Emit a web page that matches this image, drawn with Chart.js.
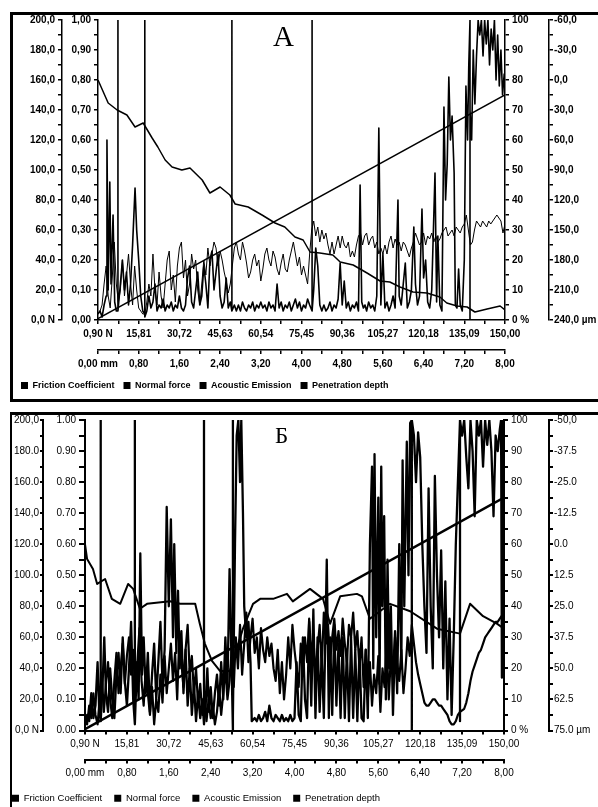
<!DOCTYPE html>
<html>
<head>
<meta charset="utf-8">
<script src="https://cdn.jsdelivr.net/npm/chart.js@4.4.1/dist/chart.umd.min.js"></script>
<style>
    html, body { margin: 0; padding: 0; background: #fff; width: 598px; height: 807px; overflow: hidden; position: relative; }
    .frame { position: absolute; border: solid #000; box-sizing: border-box; }
    #frameA { left: 10px; top: 12px; width: 600px; height: 390px; border-width: 3px 0 3px 3px; }
    #frameB { left: 10px; top: 412px; width: 600px; height: 410px; border-width: 3px 0 0 2px; }
    canvas { position: absolute; left: 0; }
    #chartA { top: 0; }
    #chartB { top: 405px; }
    .letter { position: absolute; font-family: 'Liberation Serif', 'DejaVu Serif', serif; color: #000; line-height: 1; z-index: 2; }
</style>
</head>
<body>
<div class="frame" id="frameA"></div>
<div class="frame" id="frameB"></div>
<canvas id="chartA" width="598" height="400"></canvas>
<canvas id="chartB" width="598" height="408"></canvas>
<div class="letter" style="left:273px; top:22px; font-size:29px;">А</div>
<div class="letter" style="left:275px; top:424px; font-size:23px;">Б</div>
<script>
// tick labels (every second tick carries a label, the rest are minor marks)
var forceTicks = ['0,90 N', '15,81', '30,72', '45,63', '60,54', '75,45', '90,36', '105,27', '120,18', '135,09', '150,00'];
var distanceTicks = ['0,00 mm', '0,80', '1,60', '2,40', '3,20', '4,00', '4,80', '5,60', '6,40', '7,20', '8,00'];
var aeTicks = ['0 %', '10', '20', '30', '40', '50', '60', '70', '80', '90', '100'];

var forceAxisA = ['0,0 N', '20,0', '40,0', '60,0', '80,0', '100,0', '120,0', '140,0', '160,0', '180,0', '200,0'];
var frictionAxisA = ['0,00', '0,10', '0,20', '0,30', '0,40', '0,50', '0,60', '0,70', '0,80', '0,90', '1,00'];
var depthAxisA = ['-60,0', '-30,0', '0,0', '30,0', '60,0', '90,0', '120,0', '150,0', '180,0', '210,0', '240,0 µm'];

var forceAxisB = ['0,0 N', '20,0', '40,0', '60,0', '80,0', '100.0', '120.0', '140,0', '160.0', '180.0', '200,0'];
var frictionAxisB = ['0.00', '0.10', '0.20', '0.30', '0.40', '0.50', '0.60', '0.70', '0.80', '0.90', '1.00'];
var depthAxisB = ['-50,0', '-37.5', '-25.0', '-12.5', '0.0', '12.5', '25.0', '37.5', '50.0', '62.5', '75.0 µm'];

// position along the scratch is given in % of track (0 = 0,90 N / 0 mm, 100 = 150 N / 8 mm)
var frictionStep = 0.5;

// normal force, N (linear ramp)
var forcePos = [0, 100];
var forceValues = [0.9, 150];

// ---- chart A ----
var frictionA = [
    0.02, 0.03, 0.05, 0.12, 0.18, 0.08, 0.04, 0.14, 0.26, 0.12, 0.06,
    0.10, 0.20, 0.08, 0.15, 0.22, 0.12, 0.05, 0.18, 0.10, 0.04,
    0.03, 0.02, 0.02, 0.06, 0.12, 0.08, 0.22, 0.10, 0.05, 0.16,
    0.08, 0.04, 0.12, 0.20, 0.23, 0.10, 0.15, 0.06, 0.18, 0.24,
    0.26, 0.14, 0.20, 0.08, 0.12, 0.22, 0.17, 0.20, 0.10, 0.05,
    0.12, 0.20, 0.15, 0.24, 0.18, 0.22, 0.26, 0.24, 0.18, 0.23,
    0.20, 0.16, 0.13, 0.09, 0.12, 0.18, 0.24, 0.26, 0.22, 0.20,
    0.26, 0.23, 0.19, 0.14, 0.16, 0.20, 0.22, 0.18, 0.20, 0.13,
    0.17, 0.22, 0.24, 0.20, 0.18, 0.23, 0.21, 0.17, 0.15, 0.19,
    0.22, 0.17, 0.16, 0.20, 0.23, 0.26, 0.22, 0.18, 0.21, 0.15,
    0.18, 0.15, 0.12, 0.22, 0.30, 0.33, 0.28, 0.31, 0.26, 0.30,
    0.27, 0.29, 0.25, 0.22, 0.26, 0.22, 0.25, 0.28, 0.24, 0.28,
    0.25, 0.24, 0.26, 0.21, 0.23, 0.21, 0.25, 0.28, 0.29, 0.25,
    0.28, 0.29, 0.25, 0.27, 0.28, 0.24, 0.26, 0.22, 0.24, 0.22,
    0.25, 0.22, 0.26, 0.28, 0.24, 0.27, 0.25, 0.26, 0.23, 0.26,
    0.25, 0.23, 0.21, 0.24, 0.26, 0.29, 0.27, 0.25, 0.26, 0.29,
    0.25, 0.28, 0.27, 0.29, 0.26, 0.28, 0.26, 0.27, 0.29, 0.30,
    0.31, 0.28, 0.29, 0.30, 0.28, 0.31, 0.30, 0.29, 0.31, 0.32,
    0.35, 0.30, 0.25, 0.26, 0.30, 0.33, 0.32, 0.31, 0.33, 0.32,
    0.31, 0.33, 0.32, 0.33, 0.34, 0.35, 0.34, 0.33, 0.29, 0.32
];

// acoustic emission, [position, %]
var aeA = [
    [0, 2], [0.5, 3], [1, 1], [1.5, 5], [2, 8], [2.2, 60], [2.5, 10], [2.9, 46], [3.2, 12], [3.7, 35], [4.1, 6], [4.5, 3], [4.9, 3], [4.9, 100], [4.9, 3],
    [5.5, 12], [6, 20], [6.5, 10], [7, 16], [7.5, 5], [8, 12], [8.5, 25], [9.1, 44], [9.5, 30], [10, 20], [10.5, 8], [11, 3], [11.5, 2], [11.5, 100], [11.5, 1],
    [12, 3], [12.5, 8], [13, 4], [13.5, 6], [14, 12], [14.5, 3], [15, 5], [15.5, 4], [16, 7], [16.5, 3], [17, 5], [17.5, 4], [18, 6], [18.5, 3], [19, 5], [19.5, 4],
    [20, 8], [20.5, 4], [21, 3], [21.5, 5], [22, 14], [22.5, 18], [23, 6], [23.5, 4], [24, 10], [24.5, 16], [25, 5], [25.5, 8], [26, 18], [26.5, 12], [27, 4], [27.5, 20], [28, 23], [28.5, 10], [29, 16], [29.5, 22],
    [30, 8], [30.5, 4], [31, 6], [31.5, 14], [32, 4], [32.5, 6], [32.9, 3], [32.9, 100], [32.9, 3], [33.5, 5], [34, 3], [34.5, 5], [35, 3], [35.5, 6], [36, 4], [36.5, 3], [37, 5], [37.5, 4], [38, 6], [38.5, 3], [39, 5], [39.5, 4],
    [40, 6], [40.5, 4], [41, 5], [41.5, 3], [42, 6], [42.5, 4], [43, 5], [43.5, 3], [44, 12], [44.5, 4], [45, 6], [45.5, 3], [46, 5], [46.5, 4], [47, 6], [47.5, 3], [48, 5], [48.5, 7], [49, 4], [49.5, 6],
    [50, 3], [50.5, 5], [51, 4], [51.5, 7], [52, 5], [52.6, 3], [52.6, 100], [52.6, 3], [53, 10], [53.5, 24], [54, 18], [54.5, 5], [55, 3], [55.5, 5], [56, 3], [56.5, 4], [57, 6], [57.5, 3], [58, 5], [58.5, 4], [59, 7], [59.5, 19],
    [60, 5], [60.5, 13], [61, 4], [61.5, 6], [62, 3], [62.5, 5], [63, 4], [63.5, 6], [64, 3], [64.4, 45], [64.8, 6], [65.2, 4], [65.6, 5], [66, 3], [66.5, 6], [67, 4], [67.5, 5], [68, 3], [68.5, 8], [69, 64], [69.5, 5],
    [70, 22], [70.5, 4], [71, 6], [71.5, 3], [72, 5], [72.5, 8], [73, 4], [73.7, 40], [74, 8], [74.5, 5], [75, 12], [75.5, 19], [76, 4], [76.5, 6], [77, 10], [77.6, 31], [78, 12], [78.5, 5], [79, 8], [79.6, 37],
    [80, 14], [80.5, 20], [81, 6], [81.5, 4], [82, 10], [82.8, 49], [83.2, 6], [83.5, 28], [84, 5], [84.5, 3], [85, 71], [85.4, 40], [85.8, 52], [86.2, 81], [86.6, 60], [87, 68], [87.5, 49], [87.8, 5], [88.2, 4], [88.6, 17], [89, 5], [89.5, 3],
    [90, 20], [90.4, 78], [90.8, 60], [91.1, 85], [91.4, 100], [91.4, 0], [91.4, 70], [91.8, 60], [92.2, 90], [92.6, 72], [93, 88], [93.4, 100], [93.8, 95], [94.2, 100], [94.6, 88], [95, 100], [95.4, 92], [95.8, 100],
    [96.2, 85], [96.6, 97], [97, 90], [97.4, 100], [97.8, 80], [98.2, 95], [98.6, 78], [99, 90], [99.4, 75], [99.8, 82], [100, 80]
];

// penetration depth, µm
var depthPosA = [0, 2.5, 4.7, 7.1, 9.1, 11.1, 13.3, 14.7, 16.5, 18.2, 20.6, 22.6, 25.6, 27.5, 30, 32.4, 33.7, 36.9, 40.3, 43.5,
    45.9, 48.4, 50.4, 52.1, 54.5, 57.7, 59.5, 62.7, 66.1, 69.3, 71.7, 74.2, 77.4, 80.8, 84, 85.7, 88.2, 90.7, 92.6, 95.6, 98.8, 100];
var depthA = [0, 23, 30, 35, 47, 43, 58, 67, 80, 87, 90, 88, 100, 113, 107, 115, 124, 127, 135, 143,
    147, 157, 160, 172, 173, 175, 182, 185, 193, 201, 202, 207, 212, 213, 217, 223, 226, 227, 232, 229, 226, 230];

// ---- chart Б ----
var frictionB = [
    0.03, 0.02, 0.08, 0.04, 0.12, 0.05, 0.02, 0.10, 0.18, 0.06, 0.15,
    0.22, 0.10, 0.04, 0.16, 0.25, 0.12, 0.20, 0.28, 0.15, 0.24,
    0.30, 0.18, 0.26, 0.12, 0.22, 0.33, 0.16, 0.08, 0.20, 0.12,
    0.05, 0.14, 0.02, 0.10, 0.06, 0.18, 0.09, 0.24, 0.12, 0.20,
    0.28, 0.16, 0.25, 0.10, 0.30, 0.22, 0.14, 0.26, 0.34, 0.18,
    0.24, 0.12, 0.20, 0.08, 0.15, 0.05, 0.12, 0.03, 0.10, 0.04,
    0.08, 0.02, 0.06, 0.14, 0.05, 0.12, 0.20, 0.10, 0.16, 0.26,
    0.14, 0.30, 0.20, 0.34, 0.18, 0.28, 0.38, 0.22, 0.30, 0.36,
    0.25, 0.30, 0.20, 0.33, 0.26, 0.22, 0.30, 0.24, 0.28, 0.20,
    0.16, 0.26, 0.12, 0.22, 0.10, 0.18, 0.30, 0.20, 0.34, 0.26,
    0.20, 0.14, 0.28, 0.18, 0.30, 0.22, 0.36, 0.24, 0.30, 0.18,
    0.26, 0.34, 0.20, 0.38, 0.28, 0.34, 0.22, 0.30, 0.36, 0.26,
    0.32, 0.24, 0.36, 0.28, 0.22, 0.34, 0.30, 0.38, 0.26, 0.32,
    0.20, 0.30, 0.14, 0.26, 0.10, 0.22, 0.08, 0.18, 0.12, 0.24,
    0.06, 0.20, 0.14, 0.28, 0.10, 0.24, 0.18, 0.32, 0.22, 0.16,
    0.26, 0.12, 0.20, 0.30, 0.24, 0.34, 0.28, 0.22, 0.18, 0.15,
    0.12, 0.09, 0.08, 0.08, 0.09, 0.10, 0.10, 0.09, 0.08, 0.08,
    0.07, 0.06, 0.05, 0.03, 0.02, 0.02, 0.03, 0.05, 0.06, 0.065,
    0.07, 0.09, 0.12, 0.16, 0.19, 0.21, 0.23, 0.25, 0.26, 0.28,
    0.30, 0.31, 0.32, 0.33, 0.34, 0.35, 0.35, 0.36, 0.37, 0.37
];

var aeB = [
    [0, 2], [0.5, 5], [1, 3], [1.5, 12], [2, 4], [2.5, 8], [3, 22], [3.4, 6], [3.75, 3], [3.75, 100], [3.75, 3], [4.2, 15], [4.6, 30], [5, 12], [5.5, 6], [6, 20], [6.5, 10], [7, 4], [7.5, 18], [8, 25],
    [8.5, 12], [9, 30], [9.5, 16], [10, 8], [10.5, 20], [11, 35], [11.5, 10], [11.9, 2], [11.9, 100], [11.9, 2],
    [12.4, 22], [12.8, 10], [13.2, 57], [13.6, 18], [14, 30], [14.5, 12], [15, 25], [15.5, 6], [16, 18], [16.5, 28], [17, 10], [17.5, 22], [18, 35], [18.5, 15], [19, 26], [19.5, 72], [20, 40], [20.5, 68],
    [21, 30], [21.3, 60], [21.8, 25], [22.2, 45], [22.6, 20], [23, 32], [23.5, 12], [24, 26], [24.5, 8], [25, 20], [25.5, 5], [26, 15], [26.5, 3], [27, 12], [27.5, 4], [28, 10], [28.4, 2], [28.4, 100], [28.4, 2],
    [28.8, 8], [29.2, 20], [29.6, 6], [30, 14], [30.5, 4], [31, 12], [31.5, 18], [32, 8], [32.5, 22], [33, 10], [33.5, 30], [34, 14], [34.5, 52], [35, 20], [35.3, 0], [35.3, 100], [35.3, 5],
    [35.8, 60], [36.2, 95], [36.6, 100], [37, 80], [37.3, 100], [37.7, 70], [38, 40], [38.5, 30], [39, 35], [39.5, 22], [39.8, 3],
    [40.5, 4], [41, 3], [41.5, 5], [42, 3], [42.5, 4], [43, 6], [43.5, 3], [44, 8], [44.5, 4], [45, 3], [45.5, 5], [46, 4], [46.5, 3], [47, 5], [47.5, 3], [48, 4], [48.5, 3], [49, 5], [49.5, 3], [50, 4],
    [50.5, 22], [51, 5], [51.5, 3], [52, 30], [52.5, 10], [53, 4], [53.5, 35], [54, 8], [54.5, 39], [55, 4], [55.5, 30], [56, 6], [56.5, 25], [57, 4], [57.7, 55], [58.2, 4], [58.5, 30], [59, 5], [59.5, 34],
    [60, 8], [60.5, 28], [61, 4], [61.5, 30], [62, 4], [62.5, 26], [63, 3], [63.5, 30], [64, 4], [64.5, 26], [65, 3], [65.5, 26], [66, 4], [66.5, 3], [67, 26], [67.5, 4],
    [68, 60], [68.5, 85], [68.8, 20], [69.1, 89], [69.5, 30], [70, 75], [70.3, 15], [70.7, 85], [71, 40], [71.4, 69], [71.8, 10], [72.2, 55], [72.6, 20], [73, 40], [73.5, 5], [74, 30], [74.5, 12],
    [75, 60], [75.5, 20], [75.8, 87], [76.2, 40], [76.8, 93], [77.2, 50], [77.6, 99], [78, 100], [78, 0], [78, 100], [78.5, 95], [79, 80], [79.5, 96],
    [80, 88], [80.5, 60], [81, 40], [81.5, 25], [82, 78], [82.5, 40], [83, 20], [83.5, 82], [84, 50], [84.5, 30], [85, 58], [85.5, 20], [86, 48], [86.5, 10], [87, 36], [87.5, 5], [88, 30], [88.5, 60], [89, 80],
    [89.5, 100], [89.5, 3], [89.5, 100], [90, 95], [90.5, 100], [91, 88], [91.5, 78], [92, 100], [92.5, 90], [93, 69], [93.5, 100], [94, 95], [94.5, 100], [95, 85], [95.5, 100], [96, 92], [96.5, 100],
    [97, 90], [97.5, 69], [98, 95], [98.5, 90], [99, 97], [99.3, 100], [99.5, 17], [99.8, 40], [100, 45]
];

var depthPosB = [0, 0.5, 1.9, 2.9, 4.8, 6.4, 8.4, 10.3, 11.5, 13.1, 14.8, 20.3, 22.7, 26.3, 27.4, 28.6, 30.3, 32.2, 34.6, 37.7,
    40.1, 41.8, 44.9, 48.2, 49.6, 53.7, 56.8, 58.5, 60.9, 64.9, 66.1, 68, 72.8, 77.6, 84, 89.5, 91.9, 95, 98.3, 100];
var depthB = [0, 6, 10, 16, 14, 22, 24, 16, 18, 26, 24, 23, 24, 24, 32, 40, 47, 51, 51, 34,
    24, 22, 22, 20, 23, 18, 22, 32, 21, 20, 21, 30, 24, 27, 34, 36, 24, 29, 32, 34];

Chart.defaults.font.family = "'Liberation Sans', Arial, sans-serif";
Chart.defaults.color = '#000';

// label lookup by tick value, so reversed axes get the right text too
function tickLabels(labels, min, step) {
    return function (value) {
        var i = Math.round((value - min) / step);
        return i % 2 ? '' : labels[i / 2];
    };
}

function axis(o) {
    return {
        type: 'linear',
        position: o.position,
        weight: o.weight,
        min: o.min,
        max: o.max,
        reverse: !!o.reverse,
        border: { display: true, color: '#000', width: o.lineWidth },
        grid: { drawOnChartArea: false, drawTicks: true, tickLength: o.tickLength, color: '#000', lineWidth: o.lineWidth },
        ticks: {
            stepSize: o.step, autoSkip: false, maxRotation: 0, minRotation: 0,
            padding: o.padding, color: '#000', font: o.font, callback: tickLabels(o.labels, o.min, o.step)
        },
        afterFit: function (scale) {
            if (o.width) scale.width = o.width;
            if (o.height) scale.height = o.height;
        }
    };
}

function series(label, points, axisId, width) {
    return {
        label: label, data: points, yAxisID: axisId, xAxisID: 'x',
        borderColor: '#000', backgroundColor: '#000', borderWidth: width,
        pointRadius: 0, fill: false, tension: 0, borderJoinStyle: 'round'
    };
}

function pairs(xs, ys) {
    return xs.map(function (x, i) { return { x: x, y: ys[i] }; });
}

function makeChart(id, d) {
    var f = d.font;
    return new Chart(document.getElementById(id), {
        type: 'line',
        data: {
            datasets: [
                series('Friction Coefficient', d.friction.map(function (v, i) { return { x: i * frictionStep, y: v }; }), 'yF', d.lw[0]),
                series('Normal force', pairs(forcePos, forceValues), 'yN', d.lw[1]),
                series('Acoustic Emission', d.ae.map(function (p) { return { x: p[0], y: p[1] }; }), 'yAE', d.lw[2]),
                series('Penetration depth', pairs(d.depthPos, d.depth), 'yD', d.lw[3])
            ]
        },
        options: {
            responsive: false,
            animation: false,
            devicePixelRatio: 1,
            layout: { padding: d.padding },
            plugins: {
                tooltip: { enabled: false },
                legend: {
                    position: 'bottom',
                    align: 'start',
                    labels: {
                        boxWidth: 7, boxHeight: 7, padding: d.legendPad, color: '#000', font: d.legendFont,
                        generateLabels: function (chart) {
                            var items = Chart.defaults.plugins.legend.labels.generateLabels(chart);
                            items.forEach(function (it) { it.lineWidth = 0; it.fillStyle = '#000'; });
                            return items;
                        }
                    }
                }
            },
            scales: {
                x: axis({ position: 'bottom', weight: 0, min: 0, max: 100, step: 5, labels: forceTicks, height: d.xh[0], tickLength: 4, padding: d.xpad, lineWidth: d.axisLw, font: f }),
                xmm: axis({ position: 'bottom', weight: 1, min: 0, max: 100, step: 5, labels: distanceTicks, height: d.xh[1], tickLength: 4, padding: d.xpad, lineWidth: d.axisLw, font: f }),
                yF: axis({ position: 'left', weight: 0, min: 0, max: 1, step: 0.05, labels: d.frictionAxis, width: d.yw[1], tickLength: d.tl[1], padding: 3, lineWidth: d.axisLw, font: f }),
                yN: axis({ position: 'left', weight: 1, min: 0, max: 200, step: 10, labels: d.forceAxis, width: d.yw[0], tickLength: d.tl[0], padding: d.pad0, lineWidth: d.axisLw, font: f }),
                yAE: axis({ position: 'right', weight: 0, min: 0, max: 100, step: 5, labels: aeTicks, width: d.yw[2], tickLength: 4, padding: 3, lineWidth: d.axisLw, font: f }),
                yD: axis({ position: 'right', weight: 1, min: d.depthMin, max: d.depthMax, step: d.depthStep, reverse: true, labels: d.depthAxis, width: d.yw[3], tickLength: 4, padding: 1, lineWidth: d.axisLw, font: f })
            }
        }
    });
}

makeChart('chartA', {
    friction: frictionA, ae: aeA, depthPos: depthPosA, depth: depthA,
    forceAxis: forceAxisA, frictionAxis: frictionAxisA, depthAxis: depthAxisA,
    depthMin: -60, depthMax: 240, depthStep: 15,
    lw: [1, 1.5, 1.6, 1.5], axisLw: 1.5,
    font: { size: 10, weight: 'bold' },
    legendFont: { size: 9, weight: 'bold' }, legendPad: 9,
    padding: { left: 12, right: 0, top: 20, bottom: 0 },
    yw: [50, 36, 44, 49], tl: [4, 4], pad0: 3,
    xh: [30, 22], xpad: 4
});

makeChart('chartB', {
    friction: frictionB, ae: aeB, depthPos: depthPosB, depth: depthB,
    forceAxis: forceAxisB, frictionAxis: frictionAxisB, depthAxis: depthAxisB,
    depthMin: -50, depthMax: 75, depthStep: 6.25,
    lw: [2.2, 2.5, 2.3, 2], axisLw: 2,
    font: { size: 10, weight: 'normal' },
    legendFont: { size: 9.5, weight: 'normal' }, legendPad: 12,
    padding: { left: 0, right: 0, top: 15, bottom: 0 },
    yw: [43, 42, 45, 49], tl: [3, 6], pad0: 1,
    xh: [29, 22], xpad: 4
});
</script>
</body>
</html>
